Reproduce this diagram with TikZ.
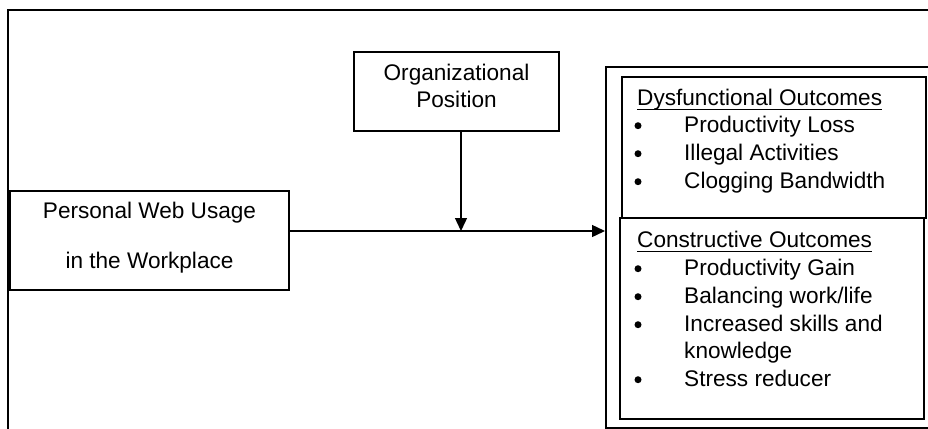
\documentclass[tikz,border=0pt]{standalone}
\usepackage{fontspec}
\setmainfont{Liberation Sans}
\usetikzlibrary{arrows.meta}
\begin{document}
\begin{tikzpicture}[x=1pt,y=-1pt,
  frame/.style={draw,line width=2.2pt},
  box/.style={draw,line width=1.5pt,inner sep=0pt},
  txt/.style={anchor=base,inner sep=0pt,font=\fontsize{22.6}{26}\selectfont},
  lt/.style={txt,anchor=base west},
  bul/.style={circle,fill,inner sep=0pt,minimum size=7pt},
  uline/.style={line width=1.2pt},
  arr/.style={line width=1.4pt,-{Triangle[length=13pt,width=12pt]}}]
\useasboundingbox (0,0) rectangle (928,428);
\clip (0,0) rectangle (928,428);
% outer frame
\draw[frame] (8,440) -- (8,10) -- (940,10);
% left box
\node[box,minimum width=279pt,minimum height=99pt] (pwu) at (149.5,240.5) {};
\node[txt] (pwu1) at (149.5,218) {Personal Web Usage};
\node[txt] (pwu2) at (149.5,268) {in the Workplace};
% org box
\node[box,minimum width=205pt,minimum height=79pt] (org) at (456.5,91.5) {};
\node[txt] (org1) at (456.5,81) {Organizational};
\node[txt] (org2) at (456.5,107) {Position};
% outcomes outer box
\node[draw,line width=1.6pt,inner sep=0pt,anchor=north west,minimum width=340pt,minimum height=361pt] (out) at (605,66) {};
% dysfunctional box
\node[box,anchor=north west,minimum width=304pt,minimum height=141pt] (dys) at (621,76) {};
% constructive box
\node[box,anchor=north west,minimum width=304pt,minimum height=201pt] (con) at (619,217) {};
% dysfunctional text
\node[lt] (dh) at (637,105) {Dysfunctional Outcomes};
\draw[uline] ([yshift=-4.5pt]dh.base west) -- ([yshift=-4.5pt]dh.base east);
\node[bul] (db1) at (638,125.7) {};
\node[lt] (d1) at (684,132) {Productivity Loss};
\node[bul] (db2) at (638,153.7) {};
\node[lt] (d2) at (684,160) {Illegal Activities};
\node[bul] (db3) at (638,181.7) {};
\node[lt] (d3) at (684,188) {Clogging Bandwidth};
% constructive text
\node[lt] (ch) at (637,247) {Constructive Outcomes};
\draw[uline] ([yshift=-4.5pt]ch.base west) -- ([yshift=-4.5pt]ch.base east);
\node[bul] (cb1) at (638,268.7) {};
\node[lt] (c1) at (684,275) {Productivity Gain};
\node[bul] (cb2) at (638,296.7) {};
\node[lt] (c2) at (684,303) {Balancing work/life};
\node[bul] (cb3) at (638,324.7) {};
\node[lt] (c3) at (684,331) {Increased skills and};
\node[lt] (c3b) at (684,358) {knowledge};
\node[bul] (cb4) at (638,379.7) {};
\node[lt] (c4) at (684,386) {Stress reducer};
% connectors
\coordinate (j) at (461,231);
\draw[arr] (pwu.east |- j) -- (out.west |- j);
\draw[arr] (org.south -| j) -- (j);
\end{tikzpicture}
\end{document}
